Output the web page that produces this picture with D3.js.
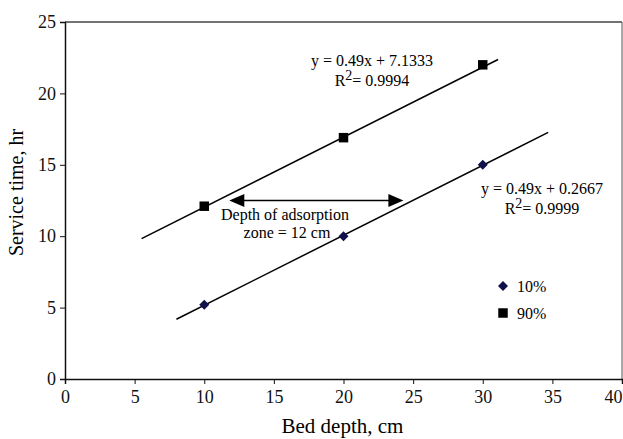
<!DOCTYPE html>
<html>
<head>
<meta charset="utf-8">
<script src="https://cdn.jsdelivr.net/npm/d3@7"></script>
<style>
  body { margin: 0; background: #fff; }
  svg { display: block; font-family: "Liberation Serif", "Times New Roman", serif; }
</style>
</head>
<body>
<div id="chart"></div>
<script>
// data //////////////////////////////////////////////////////////////////////

var depths = [10, 20, 30];
var time10 = [5.2, 10, 15];
var time90 = [12.1, 16.9, 22];

var fit10 = [0.49, 0.2667];   // slope, intercept
var fit90 = [0.49, 7.1333];
var fitRange10 = [8, 34.7];
var fitRange90 = [5.5, 31.1];

var xTicks = [0, 5, 10, 15, 20, 25, 30, 35, 40];
var yTicks = [0, 5, 10, 15, 20, 25];

var zoneY = 12.5;
var zoneX = [11.8, 24.3];

// layout ////////////////////////////////////////////////////////////////////

var width = 623, height = 439;
var plotLeft = 65, plotRight = 622, plotTop = 22, plotBottom = 379;

var svg = d3.select('#chart').append('svg')
  .attr('width', width)
  .attr('height', height);

var x = d3.scaleLinear().domain([0, 40]).range([plotLeft, plotRight]);
var y = d3.scaleLinear().domain([0, 25]).range([plotBottom, plotTop]);

// frame
svg.append('line')
  .attr('x1', plotLeft).attr('x2', plotRight).attr('y1', plotTop).attr('y2', plotTop)
  .style('stroke', '#444').style('stroke-width', 1.5);
svg.append('line')
  .attr('x1', plotRight).attr('x2', plotRight).attr('y1', plotTop).attr('y2', plotBottom)
  .style('stroke', '#555').style('stroke-width', 1);

// axes
var xAxis = svg.append('g')
  .attr('transform', 'translate(0,' + plotBottom + ')')
  .call(d3.axisBottom(x).tickValues(xTicks).tickSize(5).tickPadding(6));
var yAxis = svg.append('g')
  .attr('transform', 'translate(' + plotLeft + ',0)')
  .call(d3.axisLeft(y).tickValues(yTicks).tickSize(5).tickPadding(4));

[xAxis, yAxis].forEach(function(ax) {
  ax.attr('font-family', null).attr('font-size', null);
  ax.select('.domain').style('stroke', '#111').style('stroke-width', 1.5);
  ax.selectAll('.tick line').style('stroke', '#111');
  ax.selectAll('.tick text')
    .style('font-family', '"Liberation Serif", serif')
    .style('font-size', '18px')
    .style('fill', '#111');
});

// last x label sits flush against the right edge, as in the original
xAxis.selectAll('.tick text')
  .filter(function(d){ return d === 40; })
  .attr('text-anchor', 'end')
  .attr('x', 0);

svg.append('text')
  .attr('x', (plotLeft + plotRight) / 2 - 1).attr('y', 433)
  .attr('text-anchor', 'middle')
  .style('font-size', '21px')
  .text('Bed depth, cm');

svg.append('text')
  .attr('transform', 'translate(23,' + ((plotTop + plotBottom) / 2 - 8) + ') rotate(-90)')
  .attr('text-anchor', 'middle')
  .style('font-size', '20px')
  .text('Service time, hr');

// trend lines
function fitLine(fit, range) {
  svg.append('line')
    .attr('x1', x(range[0])).attr('y1', y(fit[0] * range[0] + fit[1]))
    .attr('x2', x(range[1])).attr('y2', y(fit[0] * range[1] + fit[1]))
    .style('stroke', '#000').style('stroke-width', 1.5);
}
fitLine(fit90, fitRange90);
fitLine(fit10, fitRange10);

// markers
var diamond = d3.symbol().type(d3.symbolDiamond2).size(64);
var square = d3.symbol().type(d3.symbolSquare).size(90);

svg.append('g').selectAll('path')
  .data(depths)
  .enter().append('path')
  .attr('d', diamond)
  .attr('transform', function(d, i){ return 'translate(' + x(d) + ',' + y(time10[i]) + ')'; })
  .style('fill', '#10104a');

svg.append('g').selectAll('path')
  .data(depths)
  .enter().append('path')
  .attr('d', square)
  .attr('transform', function(d, i){ return 'translate(' + x(d) + ',' + y(time90[i]) + ')'; })
  .style('fill', '#000');

// adsorption zone arrow
var ay = y(zoneY), ax0 = x(zoneX[0]), ax1 = x(zoneX[1]);
svg.append('line')
  .attr('x1', ax0 + 10).attr('x2', ax1 - 10).attr('y1', ay).attr('y2', ay)
  .style('stroke', '#000').style('stroke-width', 1.5);
svg.append('path')
  .attr('d', 'M' + ax0 + ',' + ay + 'L' + (ax0 + 15) + ',' + (ay - 6.5) + 'L' + (ax0 + 15) + ',' + (ay + 6.5) + 'Z')
  .style('fill', '#000');
svg.append('path')
  .attr('d', 'M' + ax1 + ',' + ay + 'L' + (ax1 - 15) + ',' + (ay - 6.5) + 'L' + (ax1 - 15) + ',' + (ay + 6.5) + 'Z')
  .style('fill', '#000');

svg.append('text')
  .attr('x', 285).attr('y', 220)
  .attr('text-anchor', 'middle')
  .style('font-size', '16px')
  .text('Depth of adsorption');
svg.append('text')
  .attr('x', 287).attr('y', 238)
  .attr('text-anchor', 'middle')
  .style('font-size', '16px')
  .text('zone = 12 cm');

// equations
function equation(cx, cy, fit, r2) {
  svg.append('text')
    .attr('x', cx).attr('y', cy)
    .attr('text-anchor', 'middle')
    .style('font-size', '16px')
    .text('y = ' + fit[0] + 'x + ' + fit[1]);
  var t = svg.append('text')
    .attr('x', cx).attr('y', cy + 20)
    .attr('text-anchor', 'middle')
    .style('font-size', '16px');
  t.append('tspan').text('R');
  t.append('tspan').attr('dy', -6).style('font-size', '14px').text('2');
  t.append('tspan').attr('dy', 6).text('= ' + r2);
}
equation(372, 66, fit90, '0.9994');
equation(542, 194, fit10, '0.9999');

// legend
var legend = svg.append('g').attr('transform', 'translate(503,286)');
legend.append('path').attr('d', diamond).style('fill', '#10104a');
legend.append('path').attr('d', square).attr('transform', 'translate(0,27)');
legend.append('text').attr('x', 14).attr('y', 5.5).style('font-size', '16px').text('10%');
legend.append('text').attr('x', 14).attr('y', 32.5).style('font-size', '16px').text('90%');
</script>
</body>
</html>
